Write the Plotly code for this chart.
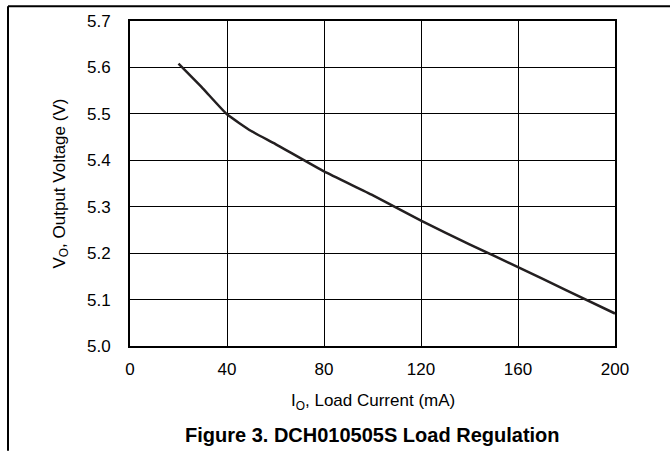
import plotly.graph_objects as go

load_current = [20, 30, 40, 50, 60, 80, 100, 120, 140, 160, 180, 200]
output_voltage = [5.608, 5.555, 5.499, 5.463, 5.435, 5.376, 5.325, 5.270, 5.219, 5.170, 5.120, 5.070]

x_ticks = [0, 40, 80, 120, 160, 200]
y_ticks = [5.0, 5.1, 5.2, 5.3, 5.4, 5.5, 5.6, 5.7]

FONT = "Liberation Sans, Arial, sans-serif"

# plot area in pixels (reference)
L, R, T, B = 130, 615, 17, 346
W, H = R - L, B - T


def px(x):
    return (x - L) / W


def py(y):
    return (B - y) / H


fig = go.Figure()
fig.add_trace(go.Scatter(
    x=load_current, y=output_voltage, mode="lines",
    line=dict(color="#231f20", width=2.5, shape="spline", smoothing=0.4),
    hoverinfo="skip", showlegend=False,
))

fig.update_layout(
    width=671, height=451,
    margin=dict(l=L, r=671 - R, t=T, b=451 - B),
    paper_bgcolor="white", plot_bgcolor="white",
    font=dict(family=FONT, size=17, color="black"),
    xaxis=dict(
        range=[0, 200], tickvals=x_ticks, ticktext=[str(v) for v in x_ticks],
        showgrid=True, gridcolor="black", gridwidth=1,
        showline=True, linecolor="black", linewidth=2, mirror=True,
        ticks="outside", ticklen=7, tickcolor="rgba(0,0,0,0)",
        zeroline=False, fixedrange=True,
    ),
    yaxis=dict(
        range=[5.0, 5.7], tickvals=y_ticks, ticktext=[f"{v:.1f}" for v in y_ticks],
        showgrid=True, gridcolor="black", gridwidth=1,
        showline=True, linecolor="black", linewidth=2, mirror=True,
        ticks="outside", ticklen=14, tickcolor="rgba(0,0,0,0)",
        zeroline=False, fixedrange=True,
    ),
    annotations=[
        dict(text="V<sub>O</sub>, Output Voltage (V)", x=px(60), y=0.5,
             xref="paper", yref="paper", textangle=-90, showarrow=False,
             xanchor="center", yanchor="middle", font=dict(size=17)),
        dict(text="I<sub>O</sub>, Load Current (mA)", x=0.5, y=py(403),
             xref="paper", yref="paper", showarrow=False,
             xanchor="center", yanchor="middle", font=dict(size=17)),
        dict(text="<b>Figure 3. DCH010505S Load Regulation</b>", x=0.5, y=py(436),
             xref="paper", yref="paper", showarrow=False,
             xanchor="center", yanchor="middle", font=dict(size=20)),
    ],
    shapes=[
        dict(type="line", xref="paper", yref="paper",
             x0=px(8), x1=px(670), y0=py(2), y1=py(2),
             line=dict(color="black", width=2)),
        dict(type="line", xref="paper", yref="paper",
             x0=px(8), x1=px(8), y0=py(2), y1=py(452),
             line=dict(color="black", width=2)),
    ],
)

fig.write_html("out.html", config={"displayModeBar": False},
               post_script="document.body.style.margin='0px';document.body.style.padding='0px';")
